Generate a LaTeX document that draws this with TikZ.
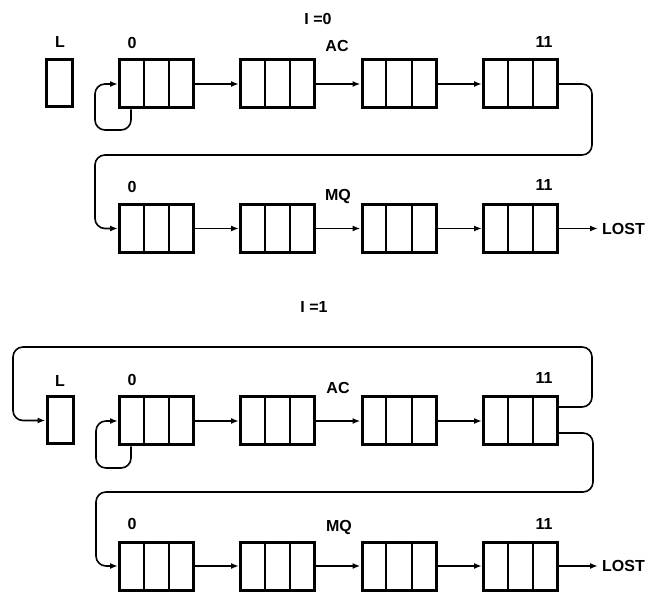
\documentclass[tikz,border=0pt]{standalone}
\usepackage{fontspec}
\setmainfont{Liberation Sans}
\usetikzlibrary{calc,arrows.meta}
\tikzset{
 reg/.style={draw, line width=3pt, minimum width=74pt, minimum height=48pt, inner sep=0pt},
 lbox/.style={draw, line width=3pt, minimum width=26pt, minimum height=47pt, inner sep=0pt},
 divider/.style={line width=2pt},
 conn/.style={line width=1.6pt, -{Latex[length=8pt,width=6pt]}, rounded corners=10pt},
 lab/.style={font=\fontsize{16}{18}\selectfont\bfseries, inner sep=0pt},
}
\newcommand\regbox[2]{%
 \node[reg] (#1) at (#2) {};
 \draw[divider] ($(#1.north west)!1/3!(#1.north east)$) -- ($(#1.south west)!1/3!(#1.south east)$);
 \draw[divider] ($(#1.north west)!2/3!(#1.north east)$) -- ($(#1.south west)!2/3!(#1.south east)$);
}
\begin{document}
\begin{tikzpicture}[x=1pt,y=-1pt]
\fill[white] (0,0) rectangle (651,593);
\useasboundingbox (0,0) rectangle (651,593);
% ---------- I = 0 ----------
\node[lab] (t1) at (318,19) {I =0};
\node[lbox] (L1) at (59.5,83.5) {};
\node[lab] (Ll1) at (60,42) {L};
\regbox{A0}{156.5,84}
\regbox{A1}{277.5,84}
\regbox{A2}{399,84}
\regbox{A3}{520.5,84}
\node[lab] (a0l) at (132,43) {0};
\node[lab] (acl) at (337,46) {AC};
\node[lab] (a11l) at (544,42) {11};
\draw[conn] (A0.east) -- (A1.west);
\draw[conn] (A1.east) -- (A2.west);
\draw[conn] (A2.east) -- (A3.west);
\draw[conn] ($(A0.south west)+(13,0)$) |- (95,130) |- (A0.west);
\regbox{M0}{156.5,228.5}
\regbox{M1}{277.5,228.5}
\regbox{M2}{399,228.5}
\regbox{M3}{520.5,228.5}
\node[lab] (m0l) at (132,187) {0};
\node[lab] (mql) at (338,196) {MQ};
\node[lab] (m11l) at (544,185) {11};
\draw[conn] (A3.east) -| (592,155) -| (95,200) |- (M0.west);
\draw[conn] (M0.east) -- (M1.west);
\draw[conn] (M1.east) -- (M2.west);
\draw[conn] (M2.east) -- (M3.west);
\node[lab, anchor=west] (lost1) at (602,228.5) {LOST};
\draw[conn, shorten >=4pt] (M3.east) -- (lost1.west);
% ---------- I = 1 ----------
\node[lab] (t2) at (314,307) {I =1};
\node[lbox] (L2) at (60,420.5) {};
\node[lab] (Ll2) at (60,381) {L};
\regbox{B0}{156.5,421}
\regbox{B1}{277.5,421}
\regbox{B2}{399,421}
\regbox{B3}{520.5,421}
\node[lab] (b0l) at (132,380) {0};
\node[lab] (bcl) at (338,388) {AC};
\node[lab] (b11l) at (544,378) {11};
\draw[conn] (B0.east) -- (B1.west);
\draw[conn] (B1.east) -- (B2.west);
\draw[conn] (B2.east) -- (B3.west);
\draw[conn] ($(B0.south west)+(13,0)$) |- (96,468) |- (B0.west);
\draw[conn] ($(B3.east)+(0,-14)$) -| (592,347) -| (13,390) |- (L2.west);
\regbox{N0}{156.5,566}
\regbox{N1}{277.5,566}
\regbox{N2}{399,566}
\regbox{N3}{520.5,566}
\node[lab] (n0l) at (132,524) {0};
\node[lab] (nql) at (339,527) {MQ};
\node[lab] (n11l) at (544,524) {11};
\draw[conn] ($(B3.east)+(0,12)$) -| (593,492) -| (96,530) |- (N0.west);
\draw[conn] (N0.east) -- (N1.west);
\draw[conn] (N1.east) -- (N2.west);
\draw[conn] (N2.east) -- (N3.west);
\node[lab, anchor=west] (lost2) at (602,566) {LOST};
\draw[conn, shorten >=4pt] (N3.east) -- (lost2.west);
\end{tikzpicture}
\end{document}
